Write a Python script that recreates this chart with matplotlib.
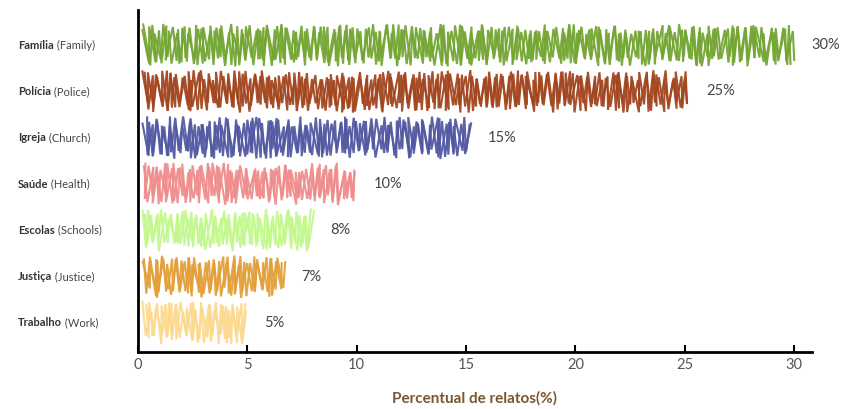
import numpy as np
import matplotlib
matplotlib.use("Agg")
import matplotlib.pyplot as plt
from matplotlib.transforms import offset_copy

categories_pt = ["Família", "Polícia", "Igreja", "Saúde", "Escolas", "Justiça", "Trabalho"]
categories_en = ["(Family)", "(Police)", "(Church)", "(Health)", "(Schools)", "(Justice)", "(Work)"]
values = [30.0, 25.2, 15.2, 10.0, 8.0, 6.7, 5.0]
value_labels = ["30%", "25%", "15%", "10%", "8%", "7%", "5%"]
colors = ["#74a634", "#a2461f", "#5259a3", "#f08c8c", "#c2f88c", "#e3a03a", "#fcd98f"]
xticks = [0, 5, 10, 15, 20, 25, 30]

plt.rcParams['font.family'] = ['Lato', 'DejaVu Sans']

fig = plt.figure(figsize=(8.45, 4.09), dpi=100)
ax = fig.add_axes([138/845, 1-352/409, (812-138)/845, (352-10)/409])
ax.set_xlim(0, 30.82)
ax.set_ylim(-0.63, 6.76)

def h(a, b):
    v = np.sin(a * 12.9898 + b * 78.233 + 0.37) * 43758.5453
    return v - np.floor(v)

n = len(categories_pt)
bar_h = 0.78
step = 0.15
x0 = 0.25
for i, (val, col) in enumerate(zip(values, colors)):
    yc = n - 1 - i
    for p in range(2):
        span = val - x0
        m = int(span / step) + 1
        idx = np.arange(m + 1)
        xs = x0 + (idx + 0.5 * p) * (span / (m + 0.5)) + (h(idx, i * 7 + p * 3 + 1) - 0.5) * 0.22
        xs = np.clip(xs, x0 - 0.05, val + 0.05)
        top = yc + bar_h / 2 - 0.04 + (h(idx, i * 5 + p + 11) - 0.5) * 0.22
        bot = yc - bar_h / 2 + 0.04 + (h(idx, i * 3 + p + 21) - 0.5) * 0.22
        ys = np.where(idx % 2 == 0, top, bot)
        ax.plot(xs, ys, color=col, lw=1.5, solid_joinstyle='miter', alpha=0.95)
    ax.text(val, yc, value_labels[i], ha='left', va='center', fontsize=10.5, color='#444444',
            transform=offset_copy(ax.transData, fig=fig, x=17, y=0, units='dots'))

for i in range(n):
    yc = n - 1 - i
    y_fig = ax.transData.transform((0, yc))[1]
    tb = fig.text(18/845, 0, categories_pt[i], fontsize=8, fontweight='bold', color='#333333',
                  ha='left', va='center',
                  transform=offset_copy(fig.transFigure, fig=fig, x=0, y=y_fig, units='dots'))
    fig.canvas.draw()
    ax.annotate(" " + categories_en[i], xy=(1, 0.5), xycoords=tb, va='center', ha='left',
                fontsize=8, color='#444444', annotation_clip=False)

ax.set_yticks([])
ax.set_xticks(xticks)
ax.set_xticklabels([str(x) for x in xticks], fontsize=10.5, color='#555555')
ax.tick_params(axis='x', direction='in', length=5, width=1.5, pad=4)
for s in ['top', 'right']:
    ax.spines[s].set_visible(False)
ax.spines['left'].set_linewidth(2)
ax.spines['bottom'].set_linewidth(2)

fig.text(475/845, 1-398/409, "Percentual de relatos(%)", ha='center', va='center',
         fontsize=11, fontweight='bold', color='#7a5630')

fig.savefig("out.png", dpi=100)
